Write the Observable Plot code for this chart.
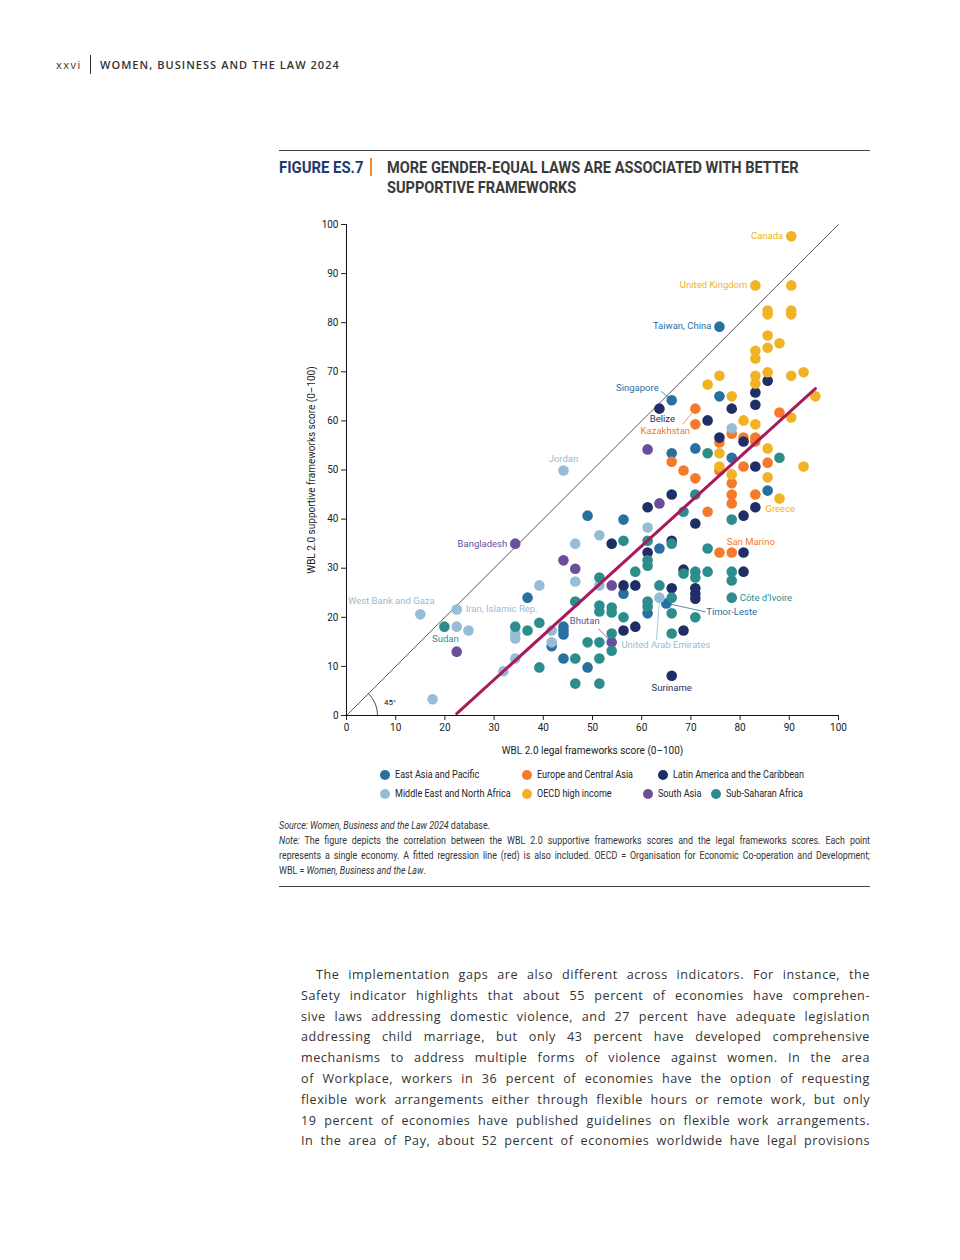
<!DOCTYPE html>
<html>
<head>
<meta charset="utf-8">
<script src="https://cdn.jsdelivr.net/npm/d3@7"></script>
<script src="https://cdn.jsdelivr.net/npm/@observablehq/plot@0.6"></script>
<style>
  html, body { margin: 0; padding: 0; background: #fff; }
  body { width: 960px; height: 1260px; position: relative; overflow: hidden; }
  .cond { font-family: Roboto, "Noto Sans", sans-serif; }
  .abs { position: absolute; white-space: nowrap; }
  #hdr-num { left: 56px; top: 57px; font: 11px "Open Sans", sans-serif; letter-spacing: 1.5px; color: #333; }
  #hdr-bar { left: 90px; top: 55px; width: 1px; height: 19px; background: #333; }
  #hdr-title { left: 100px; top: 57px; font: 600 11px "Open Sans", sans-serif; letter-spacing: 1.05px; color: #333; }
  .rule { position: absolute; left: 279px; width: 591px; height: 1px; background: #444; }
  #fig-num { left: 279px; top: 158px; font-size: 16px; font-weight: bold; color: #223a70; transform: scaleX(0.93); transform-origin: 0 0; }
  #fig-bar { left: 370px; top: 158px; width: 2px; height: 18px; background: #f08a2a; }
  #fig-title { left: 387px; top: 158px; font-size: 16px; font-weight: bold; color: #3a3a3a; line-height: 20px; transform: scaleX(0.91); transform-origin: 0 0; }
  #chart { position: absolute; left: 279px; top: 210px; }
  .leg { position: absolute; font-size: 10.5px; color: #222; display: flex; align-items: center; }
  .leg i { display: inline-block; width: 10px; height: 10px; border-radius: 50%; margin-right: 5px; }
  .leg span { display: inline-block; transform: scaleX(0.86); transform-origin: 0 50%; }
  #notes { position: absolute; left: 279px; top: 818px; width: 684px; font-size: 10.3px; line-height: 15px; color: #333; transform: scaleX(0.864); transform-origin: 0 0; }
  #notes div { text-align: justify; text-align-last: justify; white-space: nowrap; }
  #notes div.last { text-align-last: left; }
  #body { position: absolute; left: 301px; top: 965px; width: 569px; font: 12.6px "Open Sans", sans-serif; letter-spacing: 0.55px; color: #333; line-height: 20.8px; }
  #body div { text-align: justify; text-align-last: justify; white-space: nowrap; }
</style>
</head>
<body>
<div class="abs" id="hdr-num">xxvi</div>
<div class="abs" id="hdr-bar"></div>
<div class="abs" id="hdr-title">WOMEN, BUSINESS AND THE LAW 2024</div>

<div class="rule" style="top:150px"></div>
<div class="abs cond" id="fig-num">FIGURE ES.7</div>
<div class="abs" id="fig-bar"></div>
<div class="abs cond" id="fig-title">MORE GENDER-EQUAL LAWS ARE ASSOCIATED WITH BETTER<br>SUPPORTIVE FRAMEWORKS</div>

<div id="chart"></div>
<div id="legend"></div>

<div id="notes" class="cond">
  <div class="last"><i>Source: Women, Business and the Law 2024</i> database.</div>
  <div><i>Note:</i> The figure depicts the correlation between the WBL 2.0 supportive frameworks scores and the legal frameworks scores. Each point</div>
  <div>represents a single economy. A fitted regression line (red) is also included. OECD = Organisation for Economic Co-operation and Development;</div>
  <div class="last">WBL = <i>Women, Business and the Law</i>.</div>
</div>
<div class="rule" style="top:886px"></div>

<div id="body">
  <div style="padding-left:15px">The implementation gaps are also different across indicators. For instance, the</div>
  <div>Safety indicator highlights that about 55 percent of economies have comprehen-</div>
  <div>sive laws addressing domestic violence, and 27 percent have adequate legislation</div>
  <div>addressing child marriage, but only 43 percent have developed comprehensive</div>
  <div>mechanisms to address multiple forms of violence against women. In the area</div>
  <div>of Workplace, workers in 36 percent of economies have the option of requesting</div>
  <div>flexible work arrangements either through flexible hours or remote work, but only</div>
  <div>19 percent of economies have published guidelines on flexible work arrangements.</div>
  <div>In the area of Pay, about 52 percent of economies worldwide have legal provisions</div>
</div>

<script>
// ---- Data: [legal frameworks score, supportive frameworks score] ----
const eastAsiaPacific = [[36.8,24.0],[41.7,14.1],[44.1,18.1],[44.1,17.3],[44.1,16.5],[44.1,11.6],[49.0,40.7],[49.0,9.8],[56.3,39.9],[56.3,24.8],[61.2,20.8],[63.6,34.0],[65.0,22.8],[66.1,64.2],[66.1,53.4],[70.9,54.4],[75.8,79.2],[75.8,65.0],[78.3,52.5],[85.6,45.8]];
const europeCentralAsia = [[66.1,51.7],[68.5,49.9],[70.9,62.5],[70.9,59.3],[70.9,48.3],[73.4,41.5],[75.8,55.6],[75.8,49.9],[75.8,33.2],[78.3,57.4],[78.3,47.3],[78.3,45.0],[78.3,43.2],[78.3,33.2],[80.7,56.6],[80.7,50.7],[83.1,56.6],[83.1,55.8],[83.1,45.0],[85.6,51.5],[88.0,61.7]];
const latinAmericaCaribbean = [[53.9,35.0],[56.3,26.5],[56.3,17.3],[58.7,26.5],[58.7,18.1],[61.2,42.4],[61.2,33.2],[63.6,62.5],[66.1,45.0],[66.1,35.6],[66.1,25.9],[66.1,8.1],[68.5,29.7],[68.5,17.3],[70.9,39.1],[70.9,25.9],[70.9,24.8],[70.9,23.8],[73.4,60.1],[75.8,56.6],[78.3,62.5],[80.7,55.8],[80.7,40.7],[80.7,33.2],[80.7,29.3],[83.1,65.8],[83.1,63.3],[83.1,50.7],[83.1,42.4],[85.6,68.2]];
const middleEastNorthAfrica = [[15.0,20.6],[17.5,3.3],[22.4,21.6],[22.4,18.1],[24.8,17.3],[31.9,9.0],[34.3,16.7],[34.3,15.7],[34.3,11.6],[39.2,26.5],[41.7,17.3],[41.7,14.9],[44.1,49.9],[46.5,35.0],[46.5,27.3],[51.4,36.7],[51.4,26.5],[61.2,38.3],[63.6,24.0],[78.3,58.5]];
const oecdHighIncome = [[73.4,67.4],[75.8,69.2],[75.8,53.4],[75.8,50.7],[78.3,65.0],[78.3,49.1],[80.7,60.1],[83.1,87.6],[83.1,74.3],[83.1,72.7],[83.1,69.2],[83.1,67.6],[83.1,59.3],[85.6,82.5],[85.6,81.7],[85.6,77.4],[85.6,74.9],[85.6,69.9],[85.6,54.4],[85.6,48.5],[88.0,75.8],[88.0,44.2],[90.4,97.6],[90.4,87.6],[90.4,82.5],[90.4,81.7],[90.4,69.2],[90.4,60.7],[92.9,69.9],[92.9,50.7],[95.3,65.0]];
const southAsia = [[22.4,13.0],[34.3,35.0],[44.1,31.6],[46.5,29.9],[53.9,26.5],[53.9,14.9],[61.2,54.2],[63.6,43.2]];
const subSaharanAfrica = [[19.9,18.1],[34.3,18.1],[36.8,17.3],[39.2,18.9],[39.2,9.8],[46.5,23.2],[46.5,11.6],[46.5,6.5],[49.0,14.9],[51.4,28.1],[51.4,22.4],[51.4,21.2],[51.4,14.9],[51.4,11.6],[51.4,6.5],[53.9,22.0],[53.9,21.0],[53.9,16.7],[53.9,13.2],[56.3,35.6],[56.3,20.0],[58.7,29.3],[61.2,35.6],[61.2,31.6],[61.2,30.5],[61.2,23.2],[61.2,22.2],[63.6,26.5],[66.1,35.0],[66.1,24.0],[66.1,20.8],[66.1,16.7],[68.5,41.5],[68.5,28.9],[70.9,45.0],[70.9,29.3],[70.9,28.1],[70.9,20.0],[73.4,53.4],[73.4,34.0],[73.4,29.3],[78.3,39.9],[78.3,29.3],[78.3,27.5],[78.3,24.0],[88.0,52.5]];

const regionNames = ["East Asia and Pacific","Europe and Central Asia","Latin America and the Caribbean","Middle East and North Africa","OECD high income","South Asia","Sub-Saharan Africa"];
const regionColors = ["#28709f","#f37b2b","#1f2e66","#95bdd5","#f1b226","#6a4e9c","#2c8d8c"];
const regionSeries = [eastAsiaPacific, europeCentralAsia, latinAmericaCaribbean, middleEastNorthAfrica, oecdHighIncome, southAsia, subSaharanAfrica];

// labelled economies
const labelNames = ["Canada","United Kingdom","Taiwan, China","Singapore","Belize","Kazakhstan","Jordan","Bangladesh","West Bank and Gaza","Iran, Islamic Rep.","Sudan","Bhutan","United Arab Emirates","Timor-Leste","Côte d’Ivoire","Suriname","Greece","San Marino"];
const labelRegion = [4,4,0,0,2,1,3,5,3,3,6,5,3,0,6,2,4,1];
const labelLegal = [90.4,83.1,75.8,66.1,63.6,70.9,44.1,34.3,15.0,22.4,19.9,53.9,63.6,65.0,78.3,66.1,88.0,78.3];
const labelSupportive = [97.6,87.6,79.2,64.2,62.5,62.5,49.9,35.0,20.6,21.6,18.1,14.9,24.0,22.8,24.0,8.1,44.2,33.2];

// leader lines: [name, legal1, supportive1, legal2, supportive2]
const leaders = [
  ["Singapore",64.0,66.0,65.4,64.8],
  ["Kazakhstan",68.3,59.3,70.5,61.9],
  ["Bhutan",51.2,17.7,53.5,15.3],
  ["United Arab Emirates",63.0,15.4,63.6,23.3],
  ["Timor-Leste",65.7,22.7,73.0,21.1]
];

// fitted regression line
const fitSlope = 0.908;
const fitIntercept = -19.95;
const fitRange = [22.4, 95.3];
const equalityLine = [[0,0],[100,100]];
const axisTicks = [0,10,20,30,40,50,60,70,80,90,100];

// ---- Build ----
const points = regionSeries.flatMap((s, i) => s.map(([legal, supportive]) => ({legal, supportive, region: regionNames[i]})));
const fit = fitRange.map(x => ({legal: x, supportive: fitIntercept + fitSlope * x}));
const arc = d3.range(0, 46, 3).map(a => ({legal: 6.3 * Math.cos(a * Math.PI / 180), supportive: 6.3 * Math.sin(a * Math.PI / 180)}));

const labelStyle = {
  "Canada": {dx:-8, dy:0, anchor:"end"},
  "United Kingdom": {dx:-8, dy:0, anchor:"end"},
  "Taiwan, China": {dx:-8, dy:-1, anchor:"end"},
  "Singapore": {dx:-13, dy:-12, anchor:"end"},
  "Belize": {dx:3, dy:10, anchor:"middle"},
  "Kazakhstan": {dx:-30, dy:22, anchor:"middle"},
  "Jordan": {dx:0, dy:-12, anchor:"middle"},
  "Bangladesh": {dx:-8, dy:0, anchor:"end"},
  "West Bank and Gaza": {dx:-29, dy:-13, anchor:"middle"},
  "Iran, Islamic Rep.": {dx:9, dy:0, anchor:"start"},
  "Sudan": {dx:1, dy:12, anchor:"middle"},
  "Bhutan": {dx:-27, dy:-21, anchor:"middle"},
  "United Arab Emirates": {dx:-38, dy:47, anchor:"start"},
  "Timor-Leste": {dx:40, dy:8, anchor:"start"},
  "Côte d’Ivoire": {dx:8, dy:0, anchor:"start"},
  "Suriname": {dx:0, dy:12, anchor:"middle"},
  "Greece": {dx:-14, dy:10, anchor:"start"},
  "San Marino": {dx:-5, dy:-11, anchor:"start"}
};

const font = 'Roboto, "Noto Sans", sans-serif';

const labelMarks = labelNames.map((name, i) => {
  const st = labelStyle[name];
  return Plot.text([{legal: labelLegal[i], supportive: labelSupportive[i], name}], {
    x: "legal", y: "supportive", text: "name",
    dx: st.dx, dy: st.dy, textAnchor: st.anchor,
    fill: regionColors[labelRegion[i]], fontSize: 9.5
  });
});

const leaderData = leaders.map(([name, x1, y1, x2, y2]) => ({name, x1, y1, x2, y2, color: regionColors[labelRegion[labelNames.indexOf(name)]]}));

const chart = Plot.plot({
  width: 591,
  height: 550,
  marginLeft: 67,
  marginRight: 32,
  marginTop: 14,
  marginBottom: 45,
  style: {fontFamily: font, fontSize: "10px", color: "#222", background: "white"},
  x: {domain: [0, 100], ticks: axisTicks},
  y: {domain: [0, 100], ticks: axisTicks},
  color: {domain: regionNames, range: regionColors},
  marks: [
    Plot.axisX({ticks: axisTicks, tickSize: 5, tickPadding: 3, fontSize: 10,
      label: "WBL 2.0 legal frameworks score (0–100)", labelAnchor: "center", labelArrow: "none", labelOffset: 38}),
    Plot.axisY({ticks: axisTicks, tickSize: 5, tickPadding: 3, fontSize: 10,
      label: "WBL 2.0 supportive frameworks score (0–100)", labelAnchor: "center", labelArrow: "none", labelOffset: 39}),
    Plot.ruleX([0], {stroke: "#111", strokeWidth: 1}),
    Plot.ruleY([0], {stroke: "#111", strokeWidth: 1}),
    Plot.line(equalityLine, {x: d => d[0], y: d => d[1], stroke: "#111", strokeWidth: 0.7}),
    Plot.line(arc, {x: "legal", y: "supportive", stroke: "#111", strokeWidth: 0.8}),
    Plot.text([{legal: 7.6, supportive: 2.6, t: "45°"}], {x: "legal", y: "supportive", text: "t", fontSize: 8, textAnchor: "start", fill: "#111"}),
    Plot.dot(points, {x: "legal", y: "supportive", fill: "region", r: 5.3}),
    Plot.line(fit, {x: "legal", y: "supportive", stroke: "#a81a5c", strokeWidth: 3}),
    Plot.link(leaderData, {x1: "x1", y1: "y1", x2: "x2", y2: "y2", stroke: "color", strokeWidth: 0.8}),
    ...labelMarks
  ]
});
document.getElementById("chart").appendChild(chart);

// ---- Legend ----
const legendPos = [[380,768],[522,768],[658,768],[380,787],[522,787],[643,787],[711,787]];
const legend = document.getElementById("legend");
regionNames.forEach((name, i) => {
  const el = document.createElement("div");
  el.className = "leg cond";
  el.style.left = legendPos[i][0] + "px";
  el.style.top = legendPos[i][1] + "px";
  el.innerHTML = `<i style="background:${regionColors[i]}"></i><span>${name}</span>`;
  legend.appendChild(el);
});
</script>
</body>
</html>
